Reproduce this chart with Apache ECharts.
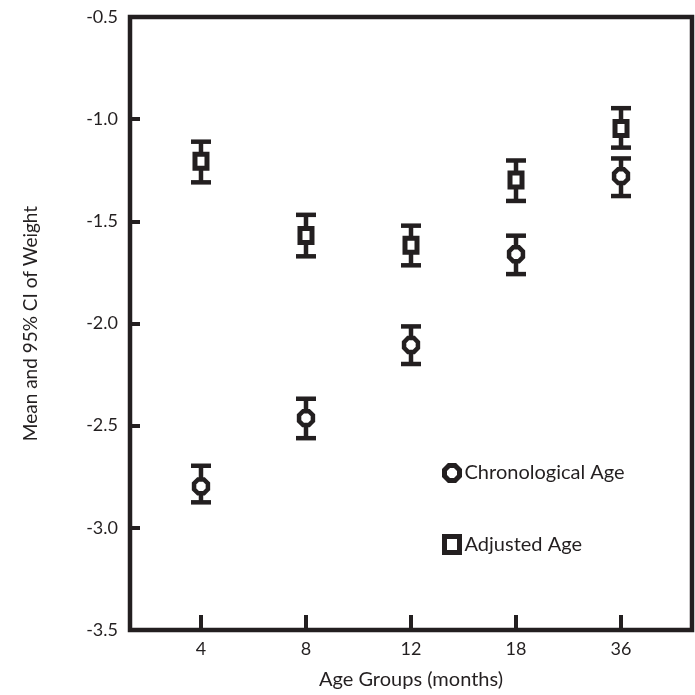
<!DOCTYPE html>
<html>
<head>
<meta charset="utf-8">
<script src="https://cdn.jsdelivr.net/npm/echarts@6/dist/echarts.min.js"></script>
<style>html,body{margin:0;padding:0;background:#fff;}#c{width:695px;height:695px;}</style>
</head>
<body>
<div id="c"></div>
<script>
var categories = ['4', '8', '12', '18', '36'];
var chronoMean = [-2.797, -2.463, -2.105, -1.661, -1.279];
var chronoLow  = [-2.874, -2.560, -2.197, -1.757, -1.375];
var chronoHigh = [-2.695, -2.367, -2.013, -1.569, -1.191];
var adjMean = [-1.206, -1.569, -1.617, -1.298, -1.046];
var adjLow  = [-1.308, -1.670, -1.714, -1.399, -1.138];
var adjHigh = [-1.109, -1.467, -1.520, -1.201, -0.945];
var yTicks = [-3.5, -3.0, -2.5, -2.0, -1.5, -1.0, -0.5];

var INK = '#231f20';
var FONT = 'Lato, "Open Sans", sans-serif';

function build(mean, low, high) {
  return categories.map(function (c, i) { return [i + 1, mean[i], low[i], high[i]]; });
}

function makeRender(shape) {
  return function (params, api) {
    var x = api.value(0);
    var m = api.coord([x, api.value(1)]);
    var lo = api.coord([x, api.value(2)]);
    var hi = api.coord([x, api.value(3)]);
    var cx = m[0];
    var children = [
      { type: 'line', shape: { x1: cx, y1: hi[1], x2: cx, y2: lo[1] }, style: { stroke: INK, lineWidth: 4.5 } },
      { type: 'rect', shape: { x: cx - 10, y: hi[1] - 2, width: 20, height: 4.5 }, style: { fill: INK } },
      { type: 'rect', shape: { x: cx - 10, y: lo[1] - 2, width: 20, height: 4.5 }, style: { fill: INK } }
    ];
    if (shape === 'square') {
      children.push({ type: 'rect', shape: { x: cx - 6, y: m[1] - 7, width: 12, height: 14 },
        style: { fill: '#fff', stroke: INK, lineWidth: 5 } });
    } else {
      var r = 7.5, pts = [];
      for (var k = 0; k < 8; k++) {
        var a = Math.PI / 8 + k * Math.PI / 4;
        pts.push([cx + r * Math.cos(a), m[1] + r * Math.sin(a)]);
      }
      children.push({ type: 'polygon', shape: { points: pts },
        style: { fill: '#fff', stroke: INK, lineWidth: 4.5 } });
    }
    return { type: 'group', children: children };
  };
}

var octPath = 'path://M3,0 L7,0 L10,3 L10,7 L7,10 L3,10 L0,7 L0,3 Z';

var chart = echarts.init(document.getElementById('c'));
chart.setOption({
  animation: false,
  backgroundColor: '#fff',
  grid: { left: 130, right: 3, top: 17, bottom: 59, show: true, borderColor: INK, borderWidth: 4.5, backgroundColor: 'transparent' },
  legend: {
    orient: 'vertical', left: 437, top: 458, itemWidth: 15, itemHeight: 16, itemGap: 51,
    textStyle: { fontFamily: FONT, fontSize: 20, color: INK, lineHeight: 16 },
    data: [
      { name: 'Chronological Age', icon: octPath, itemStyle: { color: '#fff', borderColor: INK, borderWidth: 5 } },
      { name: 'Adjusted Age', icon: 'rect', itemStyle: { color: '#fff', borderColor: INK, borderWidth: 5 } }
    ]
  },
  xAxis: {
    type: 'value', min: 0.324, max: 5.676,
    name: 'Age Groups (months)', nameLocation: 'middle', nameGap: 40,
    nameTextStyle: { fontFamily: FONT, fontSize: 20, color: INK },
    axisLine: { show: false },
    splitLine: { show: false },
    axisTick: { show: true, inside: true, length: 15, lineStyle: { color: INK, width: 4 }, customValues: [1, 2, 3, 4, 5] },
    axisLabel: { fontFamily: FONT, fontSize: 18, color: INK, margin: 10, customValues: [1, 2, 3, 4, 5],
      formatter: function (v) { return categories[Math.round(v) - 1] || ''; } }
  },
  yAxis: {
    type: 'value', min: -3.5, max: -0.5, interval: 0.5,
    name: 'Mean and 95% CI of Weight', nameLocation: 'middle', nameGap: 90, nameRotate: 90,
    nameTextStyle: { fontFamily: FONT, fontSize: 19, color: INK },
    axisLine: { show: false },
    splitLine: { show: false },
    axisTick: { show: true, inside: true, length: 10, lineStyle: { color: INK, width: 4 } },
    axisLabel: { fontFamily: FONT, fontSize: 18, color: INK, margin: 12,
      formatter: function (v) { return v.toFixed(1); } }
  },
  series: [
    { name: 'Chronological Age', type: 'custom', renderItem: makeRender('oct'), data: build(chronoMean, chronoLow, chronoHigh),
      itemStyle: { color: INK }, encode: { x: 0, y: [1, 2, 3] }, z: 5 },
    { name: 'Adjusted Age', type: 'custom', renderItem: makeRender('square'), data: build(adjMean, adjLow, adjHigh),
      itemStyle: { color: INK }, encode: { x: 0, y: [1, 2, 3] }, z: 5 }
  ]
});
</script>
</body>
</html>
